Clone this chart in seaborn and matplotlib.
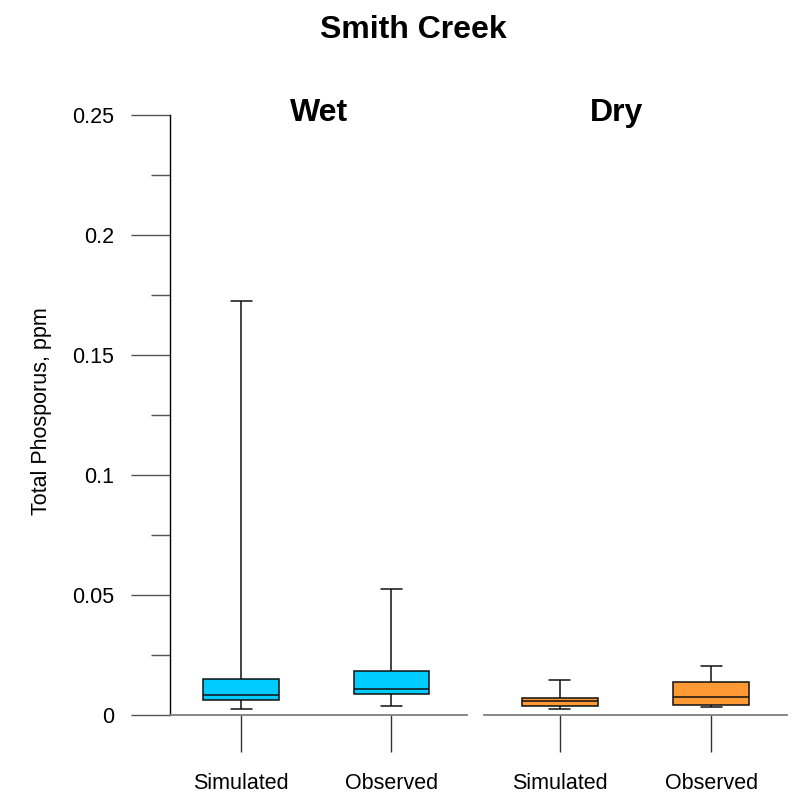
import numpy as np
import pandas as pd
import matplotlib
matplotlib.use("Agg")
import matplotlib.pyplot as plt
from matplotlib.ticker import FixedLocator, FuncFormatter
import seaborn as sns

# five-number summaries (min, q1, median, q3, max)
sources = ["Simulated", "Observed"]
seasons = ["Wet", "Dry"]
wet_simulated = [0.0025, 0.0061, 0.0082, 0.0149, 0.1725]
wet_observed = [0.0036, 0.0089, 0.0108, 0.0185, 0.0527]
dry_simulated = [0.0025, 0.0039, 0.0058, 0.0069, 0.0144]
dry_observed = [0.0032, 0.0040, 0.0075, 0.0136, 0.0203]
season_colors = {"Wet": "#00CCFF", "Dry": "#FF9933"}
y_major = [0, 0.05, 0.1, 0.15, 0.2, 0.25]
y_minor = [0.025, 0.075, 0.125, 0.175, 0.225]

rows = []
for season, src, vals in [("Wet", "Simulated", wet_simulated),
                          ("Wet", "Observed", wet_observed),
                          ("Dry", "Simulated", dry_simulated),
                          ("Dry", "Observed", dry_observed)]:
    for v in vals:
        rows.append({"season": season, "source": src, "value": v})
df = pd.DataFrame(rows)

sns.set_style("ticks")
plt.rcParams["font.family"] = ["Liberation Sans", "DejaVu Sans"]
plt.rcParams["text.color"] = "black"
plt.rcParams["axes.labelcolor"] = "black"
plt.rcParams["xtick.labelcolor"] = "black"
plt.rcParams["ytick.labelcolor"] = "black"

W, H = 794, 793
fig = plt.figure(figsize=(W / 100, H / 100), dpi=100)

def px_rect(x0, x1, ytop, ybot):
    return [x0 / W, 1 - ybot / H, (x1 - x0) / W, (ybot - ytop) / H]

ax1 = fig.add_axes(px_rect(170, 467, 115, 715))
ax2 = fig.add_axes(px_rect(484, 787, 115, 715))

for ax, season, xlim in [(ax1, "Wet", (-0.473, 1.505)), (ax2, "Dry", (-0.5, 1.5))]:
    sub = df[df["season"] == season]
    sns.boxplot(data=sub, x="source", y="value", order=sources, ax=ax,
                color=season_colors[season], saturation=1, whis=(0, 100),
                width=0.5, linecolor="#111111", linewidth=1.1,
                capwidths=0.14)
    ax.set_xlim(*xlim)
    ax.set_ylim(0, 0.25)
    ax.set_xlabel("")
    ax.set_ylabel("")
    ax.spines["top"].set_visible(False)
    ax.spines["right"].set_visible(False)
    ax.spines["bottom"].set_color("#7f7f7f")
    ax.spines["bottom"].set_linewidth(1.3)
    ax.tick_params(axis="x", direction="out", length=26.6, width=1.0,
                   color="#333333", pad=15, labelsize=15.5, labelcolor="black")
    ax.set_facecolor("white")

ax1.spines["left"].set_color("black")
ax1.spines["left"].set_linewidth(1.0)
ax1.yaxis.set_major_locator(FixedLocator(y_major))
ax1.yaxis.set_minor_locator(FixedLocator(y_minor))
ax1.yaxis.set_major_formatter(FuncFormatter(lambda v, p: "0" if v == 0 else f"{v:g}"))
ax1.tick_params(axis="y", which="major", direction="out", length=28, width=1.0,
                color="#555555", pad=12, labelsize=15.5, labelcolor="black")
ax1.tick_params(axis="y", which="minor", direction="out", length=13.7, width=1.0,
                color="#555555")

ax2.spines["left"].set_visible(False)
ax2.set_yticks([])

fig.text(413 / W, 1 - 38 / H, "Smith Creek", ha="center", va="baseline",
         fontsize=23, fontweight="bold", color="black")
fig.text(319.5 / W, 1 - 121 / H, seasons[0], ha="center", va="baseline",
         fontsize=23, fontweight="bold", color="black")
fig.text(617 / W, 1 - 121 / H, seasons[1], ha="center", va="baseline",
         fontsize=23, fontweight="bold", color="black")
fig.text(42 / W, 1 - 411 / H, "Total Phosporus, ppm", rotation=90,
         ha="center", va="center", fontsize=15.5, color="black")

fig.savefig("out.png", dpi=100, facecolor="white")
